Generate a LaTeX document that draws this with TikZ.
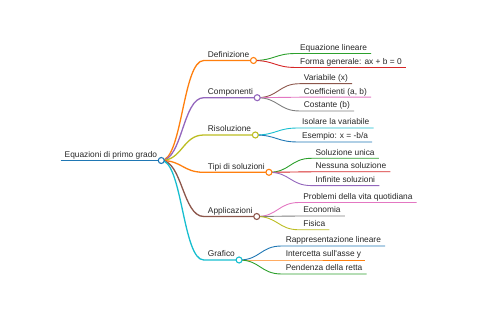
\documentclass[tikz,border=0pt]{standalone}
\usepackage{fontspec}
\setmainfont{Liberation Sans}
\usetikzlibrary{calc}
\definecolor{mmblue}{HTML}{1F77B4}
\definecolor{mmorange}{HTML}{FF7F0E}
\definecolor{mmgreen}{HTML}{2CA02C}
\definecolor{mmred}{HTML}{D62728}
\definecolor{mmpurple}{HTML}{9467BD}
\definecolor{mmbrown}{HTML}{8C564B}
\definecolor{mmpink}{HTML}{E377C2}
\definecolor{mmgrey}{HTML}{7F7F7F}
\definecolor{mmolive}{HTML}{BCBD22}
\definecolor{mmcyan}{HTML}{17BECF}
\definecolor{txt}{HTML}{262626}
% parent, child, colour, width: curved link followed by the child's underline
\newcommand{\branch}[4]{\draw[#3, line width=#4] (#1.south east)
  .. controls +(21,0) and +(-21,0) .. (#2.south west) -- (#2.south east);}

\begin{document}
\begin{tikzpicture}[x=1pt, y=-1pt,
  topic/.style={anchor=south west, inner xsep=4pt, inner ysep=2.8pt,
                text height=6pt, text depth=0pt, text=txt,
                font=\fontsize{8.35}{10}\selectfont},
  knob/.style={circle, draw, fill=white, line width=1.1pt,
               minimum size=6pt, inner sep=0pt},
]
  \useasboundingbox (0,0) rectangle (480,320);

  \node[topic] (root) at (60.5,160.5) {Equazioni di primo grado};

  % first level
  \node[topic] (def)  at ($(root.south east)+(42.5,-100)$) {Definizione};
  \node[topic] (comp) at ($(root.south east)+(42.5,-62.8)$) {Componenti};
  \node[topic] (ris)  at ($(root.south east)+(42.5,-25.5)$) {Risoluzione};
  \node[topic] (tipi) at ($(root.south east)+(42.5,11.8)$) {Tipi di soluzioni};
  \node[topic] (appl) at ($(root.south east)+(42.5,56)$) {Applicazioni};
  \node[topic] (graf) at ($(root.south east)+(42.5,99.5)$) {Grafico};

  % second level
  \node[topic] (eqlin) at ($(def.south east)+(42.5,-7)$) {Equazione lineare};
  \node[topic] (forma) at ($(def.south east)+(42.5,7)$) {Forma generale: ax + b = 0};
  \node[topic] (var)   at ($(comp.south east)+(42.5,-14)$) {Variabile (x)};
  \node[topic] (coef)  at ($(comp.south east)+(42.5,-0.5)$) {Coefficienti (a, b)};
  \node[topic] (cost)  at ($(comp.south east)+(42.5,13.3)$) {Costante (b)};
  \node[topic] (isol)  at ($(ris.south east)+(42.5,-7)$) {Isolare la variabile};
  \node[topic] (esem)  at ($(ris.south east)+(42.5,7)$) {Esempio: x = -b/a};
  \node[topic] (unica) at ($(tipi.south east)+(42.5,-14)$) {Soluzione unica};
  \node[topic] (ness)  at ($(tipi.south east)+(42.5,-0.5)$) {Nessuna soluzione};
  \node[topic] (inf)   at ($(tipi.south east)+(42.5,13.3)$) {Infinite soluzioni};
  \node[topic] (prob)  at ($(appl.south east)+(42.5,-14)$) {Problemi della vita quotidiana};
  \node[topic] (econ)  at ($(appl.south east)+(42.5,-0.5)$) {Economia};
  \node[topic] (fis)   at ($(appl.south east)+(42.5,13.3)$) {Fisica};
  \node[topic] (rapp)  at ($(graf.south east)+(42.5,-14)$) {Rappresentazione lineare};
  \node[topic] (inter) at ($(graf.south east)+(42.5,0)$) {Intercetta sull\textquotesingle asse y};
  \node[topic] (pend)  at ($(graf.south east)+(42.5,14)$) {Pendenza della retta};

  \draw[mmblue, line width=1.6pt] (root.south west) -- (root.south east);

  \branch{root}{def}{mmorange}{1.3pt}
  \branch{root}{comp}{mmpurple}{1.3pt}
  \branch{root}{ris}{mmolive}{1.3pt}
  \branch{root}{tipi}{mmorange}{1.3pt}
  \branch{root}{appl}{mmbrown}{1.3pt}
  \branch{root}{graf}{mmcyan}{1.3pt}

  \branch{def}{eqlin}{mmgreen}{0.9pt}
  \branch{def}{forma}{mmred}{0.9pt}
  \branch{comp}{var}{mmbrown}{0.9pt}
  \branch{comp}{coef}{mmpink}{0.9pt}
  \branch{comp}{cost}{mmgrey}{0.9pt}
  \branch{ris}{isol}{mmcyan}{0.9pt}
  \branch{ris}{esem}{mmblue}{0.9pt}
  \branch{tipi}{unica}{mmgreen}{0.9pt}
  \branch{tipi}{ness}{mmred}{0.9pt}
  \branch{tipi}{inf}{mmpurple}{0.9pt}
  \branch{appl}{prob}{mmpink}{0.9pt}
  \branch{appl}{econ}{mmgrey}{0.9pt}
  \branch{appl}{fis}{mmolive}{0.9pt}
  \branch{graf}{rapp}{mmblue}{0.9pt}
  \branch{graf}{inter}{mmorange}{0.9pt}
  \branch{graf}{pend}{mmgreen}{0.9pt}

  % fold knobs on top of the lines
  \node[knob, draw=mmblue]   (root-k) at (root.south east) {};
  \node[knob, draw=mmorange] (def-k)  at (def.south east) {};
  \node[knob, draw=mmpurple] (comp-k) at (comp.south east) {};
  \node[knob, draw=mmolive]  (ris-k)  at (ris.south east) {};
  \node[knob, draw=mmorange] (tipi-k) at (tipi.south east) {};
  \node[knob, draw=mmbrown]  (appl-k) at (appl.south east) {};
  \node[knob, draw=mmcyan]   (graf-k) at (graf.south east) {};
\end{tikzpicture}
\end{document}
